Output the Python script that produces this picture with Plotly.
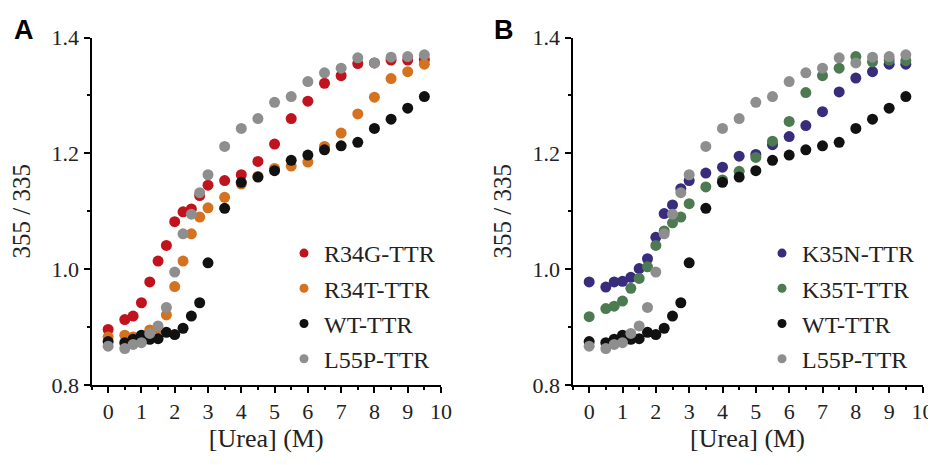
import plotly.graph_objects as go

# Urea concentration (M)
urea = [0, 0.5, 0.75, 1.0, 1.25, 1.5, 1.75, 2.0, 2.25, 2.5, 2.75, 3.0,
        3.5, 4.0, 4.5, 5.0, 5.5, 6.0, 6.5, 7.0, 7.5, 8.0, 8.5, 9.0, 9.5]

r34g = [0.896, 0.913, 0.919, 0.942, 0.978, 1.014, 1.041, 1.082, 1.099, 1.104, 1.127, 1.145,
        1.153, 1.163, 1.186, 1.216, 1.260, 1.290, 1.321, 1.334, 1.355, 1.356, 1.361, 1.361, 1.362]
r34t = [0.883, 0.886, 0.883, 0.880, 0.895, 0.897, 0.921, 0.970, 1.014, 1.061, 1.090, 1.106,
        1.124, 1.147, 1.160, 1.174, 1.178, 1.185, 1.212, 1.235, 1.268, 1.297, 1.329, 1.341, 1.354]
wt = [0.875, 0.873, 0.879, 0.886, 0.879, 0.880, 0.891, 0.887, 0.898, 0.919, 0.942, 1.011,
      1.105, 1.150, 1.159, 1.170, 1.188, 1.197, 1.206, 1.213, 1.219, 1.243, 1.259, 1.278, 1.298]
l55p = [0.867, 0.863, 0.870, 0.873, 0.889, 0.902, 0.934, 0.995, 1.061, 1.095, 1.132, 1.163,
        1.212, 1.243, 1.260, 1.288, 1.298, 1.324, 1.339, 1.347, 1.365, 1.356, 1.366, 1.367, 1.370]
k35n = [0.978, 0.969, 0.978, 0.979, 0.986, 1.001, 1.018, 1.055, 1.096, 1.111, 1.139, 1.153,
        1.166, 1.176, 1.195, 1.198, 1.215, 1.229, 1.248, 1.272, 1.306, 1.330, 1.341, 1.354, 1.354]
k35t = [0.918, 0.932, 0.936, 0.945, 0.967, 0.984, 1.004, 1.041, 1.066, 1.080, 1.090, 1.113,
        1.142, 1.154, 1.169, 1.193, 1.221, 1.255, 1.305, 1.334, 1.347, 1.367, 1.358, 1.361, 1.360]

panel_a = [("R34G-TTR", r34g, "#C0131D"), ("R34T-TTR", r34t, "#D4721F"),
           ("WT-TTR", wt, "#111111"), ("L55P-TTR", l55p, "#8E8E8E")]
panel_b = [("K35N-TTR", k35n, "#382C7C"), ("K35T-TTR", k35t, "#4C7A51"),
           ("WT-TTR", wt, "#111111"), ("L55P-TTR", l55p, "#8E8E8E")]

SERIF = "Times New Roman, Liberation Serif, serif"
W, H = 928, 457   # page body has an 8px margin in the 936x465 window

fig = go.Figure()
for panel, xa, ya, leg in [(panel_a, "x", "y", "legend"), (panel_b, "x2", "y2", "legend2")]:
    for i, (name, vals, col) in enumerate(panel):
        fig.add_trace(go.Scatter(x=urea, y=vals, mode="markers", name=name,
                                 marker=dict(size=11, color=col, line=dict(width=0)),
                                 xaxis=xa, yaxis=ya, showlegend=False))
    for i, (name, vals, col) in enumerate(panel):
        fig.add_trace(go.Scatter(x=[None], y=[None], mode="markers", name=name,
                                 marker=dict(size=9, color=col),
                                 xaxis=xa, yaxis=ya, legend=leg, legendgroup=leg + str(i),
                                 showlegend=True))

def xax(domain, anchor):
    return dict(domain=domain, range=[-0.5, 10], tick0=0, dtick=1, anchor=anchor,
                automargin=False,
                showline=True, linecolor="black", linewidth=2, mirror=False,
                ticks="outside", ticklen=6, tickwidth=2, tickcolor="black",
                minor=dict(dtick=0.5, tick0=0, ticks="outside", ticklen=3, tickwidth=2, tickcolor="black"),
                showgrid=False, zeroline=False,
                tickfont=dict(family=SERIF, size=22, color="#222"),
                title=dict(text="[Urea] (M)", font=dict(family=SERIF, size=26, color="#222"), standoff=5))

def yax(domain, anchor):
    return dict(domain=domain, range=[0.8, 1.4], tick0=0.8, dtick=0.2, tickformat=".1f",
                anchor=anchor, automargin=False,
                showline=True, linecolor="black", linewidth=2,
                ticks="outside", ticklen=6, tickwidth=2, tickcolor="black",
                minor=dict(dtick=0.1, tick0=0.8, ticks="outside", ticklen=3, tickwidth=2, tickcolor="black"),
                showgrid=False, zeroline=False,
                tickfont=dict(family=SERIF, size=22, color="#222"),
                title=dict(text="355 / 335", font=dict(family=SERIF, size=25, color="#222"), standoff=14))

ydom = [(H - 377) / H, (H - 29.5) / H]
fig.update_layout(
    width=W, height=H, margin=dict(l=0, r=0, t=0, b=0, pad=0, autoexpand=False),
    font=dict(family=SERIF, color="#222"),
    paper_bgcolor="white", plot_bgcolor="white",
    xaxis=xax([83.5 / W, 433 / W], "y"), yaxis=yax(ydom, "x"),
    xaxis2=xax([564.5 / W, 914.5 / W], "y2"), yaxis2=yax(ydom, "x2"),
    legend=dict(x=276 / W, y=1 - 223 / H, xanchor="left", yanchor="top",
                font=dict(family=SERIF, size=24, color="#222"), tracegroupgap=1,
                bgcolor="rgba(0,0,0,0)"),
    legend2=dict(x=754 / W, y=1 - 223 / H, xanchor="left", yanchor="top",
                 font=dict(family=SERIF, size=24, color="#222"), tracegroupgap=1,
                 bgcolor="rgba(0,0,0,0)"),
    annotations=[
        dict(text="<b>A</b>", x=4 / W, y=1 - 22 / H, xref="paper", yref="paper",
             xanchor="left", yanchor="middle", showarrow=False,
             font=dict(family="Liberation Sans, Arial, sans-serif", size=27, color="black")),
        dict(text="<b>B</b>", x=484 / W, y=1 - 22 / H, xref="paper", yref="paper",
             xanchor="left", yanchor="middle", showarrow=False,
             font=dict(family="Liberation Sans, Arial, sans-serif", size=27, color="black")),
    ],
)

fig.write_html("out.html")
